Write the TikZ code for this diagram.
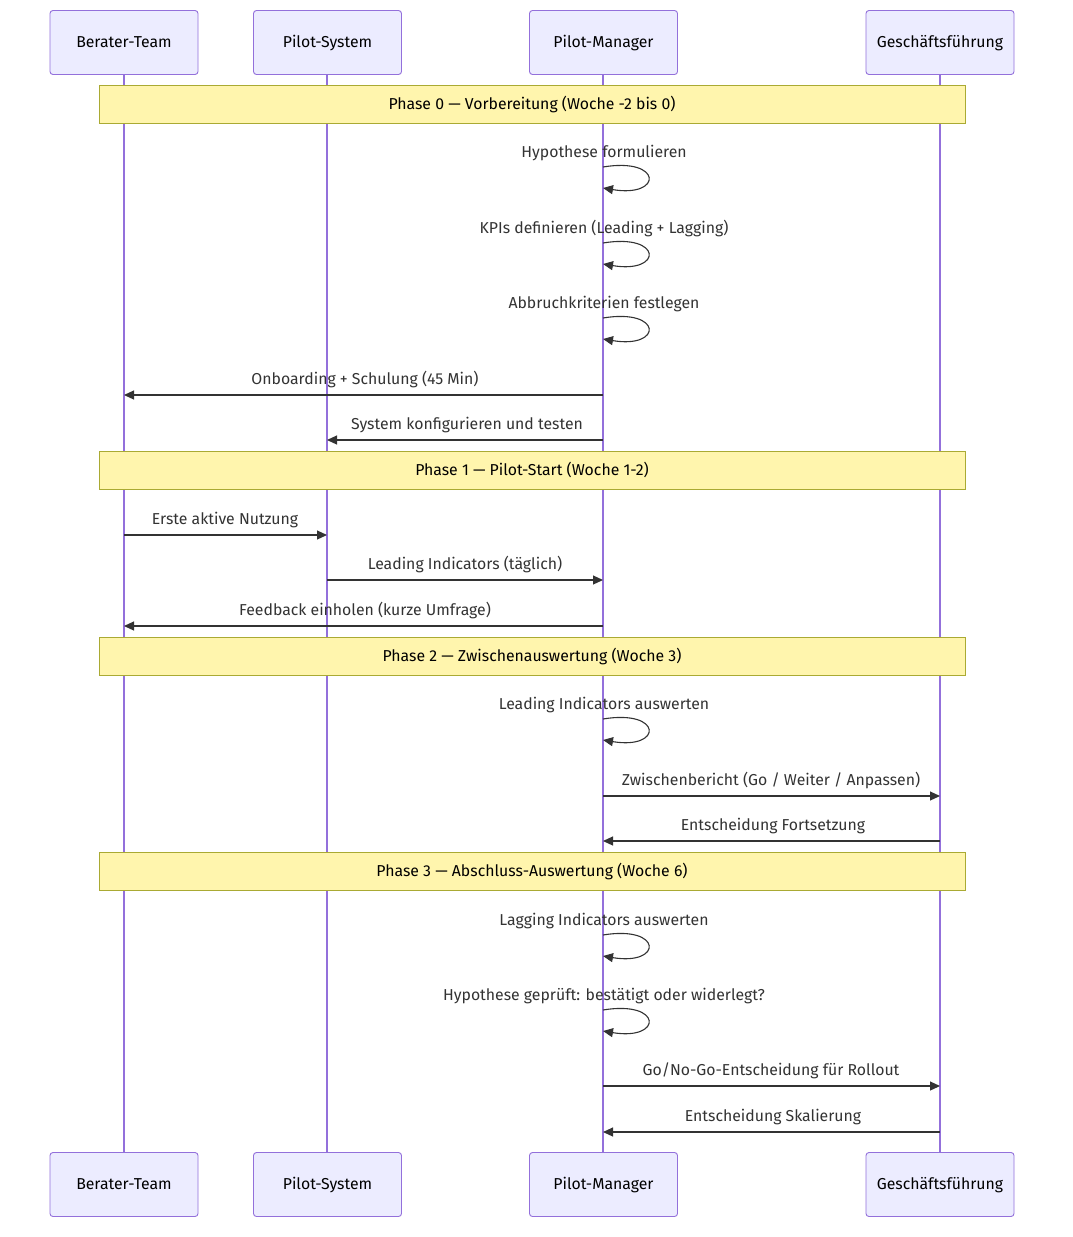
\documentclass[tikz,border=0pt]{standalone}
\usepackage{fontspec}
\setmainfont{Fira Sans}
\usetikzlibrary{arrows.meta}
\definecolor{actfill}{HTML}{ECECFF}
\definecolor{actline}{HTML}{9370DB}
\definecolor{notefill}{HTML}{FFF5AD}
\definecolor{noteline}{HTML}{AAAA33}
\definecolor{txt}{HTML}{333333}
\begin{document}
\begin{tikzpicture}[x=1pt,y=-1pt,
  lbl/.style={font=\fontsize{15.8}{19}\selectfont,text height=14.5pt,text depth=3.6pt},
  actor/.style={lbl,draw=actline,fill=actfill,rounded corners=3pt,minimum width=148pt,minimum height=64pt,line width=0.9pt,text=black,inner sep=0pt},
  note/.style={lbl,draw=noteline,fill=notefill,minimum width=866pt,minimum height=38pt,line width=0.9pt,text=black,inner sep=0pt},
  msg/.style={lbl,text=txt,inner sep=0pt},
  arr/.style={draw=txt,line width=1.1pt,-{Triangle[length=10pt,width=9pt]}},
  life/.style={draw=actline,line width=1.8pt}]
\useasboundingbox (0,0) rectangle (1072,1237);
\fill[white] (0,0) rectangle (1072,1237);
% lifelines
\foreach \n/\x in {b/124,s/327,m/603,g/940}{
  \coordinate (\n top) at (\x,74);
  \coordinate (\n bot) at (\x,1152);
  \draw[life] (\n top) -- (\n bot);
}
% actors
\node[actor] (bt) at (124,42.5) {Berater-Team};
\node[actor] (st) at (327.5,42.5) {Pilot-System};
\node[actor] (mt) at (603.5,42.5) {Pilot-Manager};
\node[actor] (gt) at (940,42.5) {Geschäftsführung};
\node[actor] (bb) at (124,1184.5) {Berater-Team};
\node[actor] (sb) at (327.5,1184.5) {Pilot-System};
\node[actor] (mb) at (603.5,1184.5) {Pilot-Manager};
\node[actor] (gb) at (940,1184.5) {Geschäftsführung};
% notes
\node[note] (n0) at (532,104) {Phase 0 — Vorbereitung (Woche -2 bis 0)};
\node[note] (n1) at (532,470) {Phase 1 — Pilot-Start (Woche 1-2)};
\node[note] (n2) at (532,656) {Phase 2 — Zwischenauswertung (Woche 3)};
\node[note] (n3) at (532,871) {Phase 3 — Abschluss-Auswertung (Woche 6)};
% self loops
\foreach \i/\y/\t in {1/167/Hypothese formulieren,2/243/KPIs definieren (Leading + Lagging),3/318/Abbruchkriterien festlegen,4/719/Leading Indicators auswerten,5/935/Lagging Indicators auswerten,6/1010/Hypothese geprüft: bestätigt oder widerlegt?}{
  \node[msg] (l\i) at (604,\y-15) {\t};
  \coordinate (ls\i) at (603,\y);
  \coordinate (le\i) at (603,\y+21);
  \draw[arr] (ls\i) .. controls (663,\y-10) and (663,\y+31) .. (le\i);
}
% messages
\coordinate (a1s) at (603,395); \coordinate (a1e) at (124,395);
\node[msg] (t1) at (365,379) {Onboarding + Schulung (45 Min)};
\draw[arr] (a1s) -- (a1e);
\coordinate (a2s) at (603,440); \coordinate (a2e) at (327,440);
\node[msg] (t2) at (467,424) {System konfigurieren und testen};
\draw[arr] (a2s) -- (a2e);
\coordinate (a3s) at (124,535); \coordinate (a3e) at (327,535);
\node[msg] (t3) at (225,519) {Erste aktive Nutzung};
\draw[arr] (a3s) -- (a3e);
\coordinate (a4s) at (327,580); \coordinate (a4e) at (603,580);
\node[msg] (t4) at (465,564) {Leading Indicators (täglich)};
\draw[arr] (a4s) -- (a4e);
\coordinate (a5s) at (603,626); \coordinate (a5e) at (124,626);
\node[msg] (t5) at (365,610) {Feedback einholen (kurze Umfrage)};
\draw[arr] (a5s) -- (a5e);
\coordinate (a6s) at (603,796); \coordinate (a6e) at (940,796);
\node[msg] (t6) at (771,780) {Zwischenbericht (Go / Weiter / Anpassen)};
\draw[arr] (a6s) -- (a6e);
\coordinate (a7s) at (940,841); \coordinate (a7e) at (603,841);
\node[msg] (t7) at (773,825) {Entscheidung Fortsetzung};
\draw[arr] (a7s) -- (a7e);
\coordinate (a8s) at (603,1086); \coordinate (a8e) at (940,1086);
\node[msg] (t8) at (771,1070) {Go/No-Go-Entscheidung für Rollout};
\draw[arr] (a8s) -- (a8e);
\coordinate (a9s) at (940,1132); \coordinate (a9e) at (603,1132);
\node[msg] (t9) at (773,1116) {Entscheidung Skalierung};
\draw[arr] (a9s) -- (a9e);
\end{tikzpicture}
\end{document}
